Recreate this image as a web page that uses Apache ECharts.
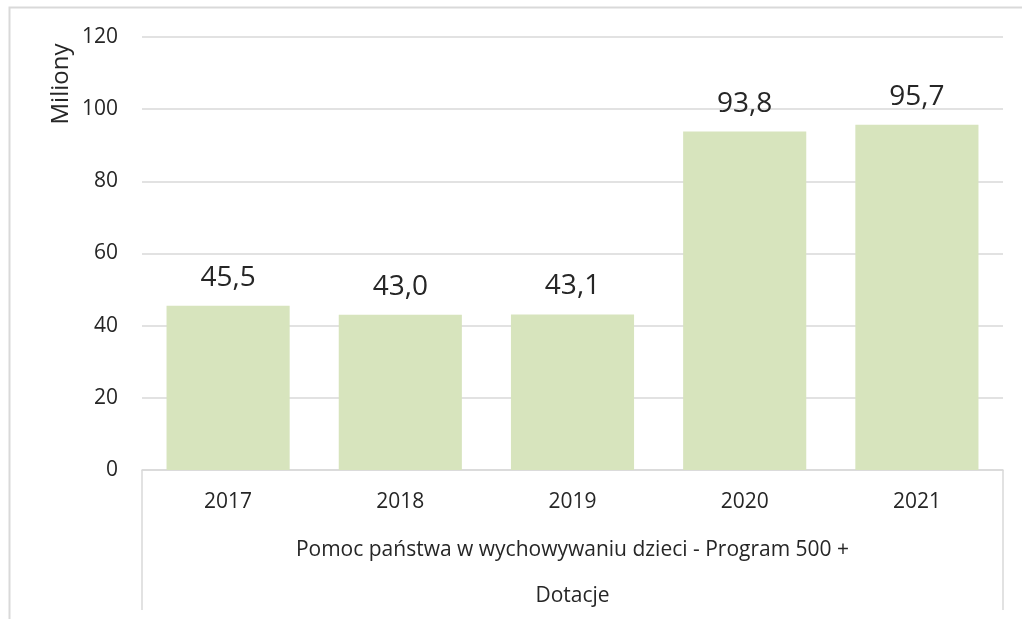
<!DOCTYPE html>
<html>
<head>
<meta charset="utf-8">
<script src="https://cdn.jsdelivr.net/npm/echarts@6/dist/echarts.min.js"></script>
<style>
  html, body { margin: 0; padding: 0; background: #fff; }
  #chart { width: 1022px; height: 619px; }
</style>
</head>
<body>
<div id="chart"></div>
<script>
// data
const years = ['2017', '2018', '2019', '2020', '2021']
const values = [45.5, 43.0, 43.1, 93.8, 95.7]
const groupLabel = ['Pomoc państwa w wychowywaniu dzieci - Program 500 +']
const outerLabel = ['Dotacje']
const yTitle = 'Miliony'

const font = '"Open Sans", "Noto Sans", sans-serif'
const textColor = '#262626'
const lineColor = '#d9d9d9'

let chart = echarts.init(document.getElementById('chart'))
let option = {
  animation: false,
  grid: { left: 142, right: 19, top: 37, bottom: 149 },
  graphic: [
    {
      type: 'rect',
      shape: { x: 9.5, y: 7.5, width: 1030, height: 640 },
      style: { fill: 'none', stroke: lineColor, lineWidth: 2 },
      silent: true
    },
    {
      type: 'text',
      x: 61,
      y: 84,
      rotation: Math.PI / 2,
      style: {
        text: yTitle,
        fontFamily: font,
        fontSize: 24,
        fill: textColor,
        textAlign: 'center',
        textVerticalAlign: 'middle'
      }
    }
  ],
  xAxis: [
    {
      type: 'category',
      data: years,
      axisLine: { lineStyle: { color: lineColor, width: 1.5 } },
      axisTick: { show: false },
      axisLabel: { color: textColor, fontFamily: font, fontSize: 21, margin: 22 }
    },
    {
      type: 'category',
      data: groupLabel,
      position: 'bottom',
      axisLine: { show: false },
      axisTick: { show: true, length: 140, lineStyle: { color: lineColor, width: 1.5 } },
      axisLabel: { color: textColor, fontFamily: font, fontSize: 21, margin: 70 }
    },
    {
      type: 'category',
      data: outerLabel,
      position: 'bottom',
      axisLine: { show: false },
      axisTick: { show: false },
      axisLabel: { color: textColor, fontFamily: font, fontSize: 21, margin: 116 }
    }
  ],
  yAxis: {
    type: 'value',
    min: 0,
    max: 120,
    interval: 20,
    axisLine: { show: false },
    axisTick: { show: false },
    axisLabel: { color: textColor, fontFamily: font, fontSize: 21, margin: 24 },
    splitLine: { lineStyle: { color: lineColor, width: 1.5 } }
  },
  series: [{
    type: 'bar',
    xAxisIndex: 0,
    data: values,
    barWidth: '71.5%',
    itemStyle: { color: '#d7e4bd' },
    label: {
      show: true,
      position: 'top',
      distance: 14,
      color: textColor,
      fontFamily: font,
      fontSize: 28,
      formatter: p => p.value.toFixed(1).replace('.', ',')
    }
  }]
}
chart.setOption(option)
window.addEventListener('resize', () => chart.resize())
</script>
</body>
</html>
